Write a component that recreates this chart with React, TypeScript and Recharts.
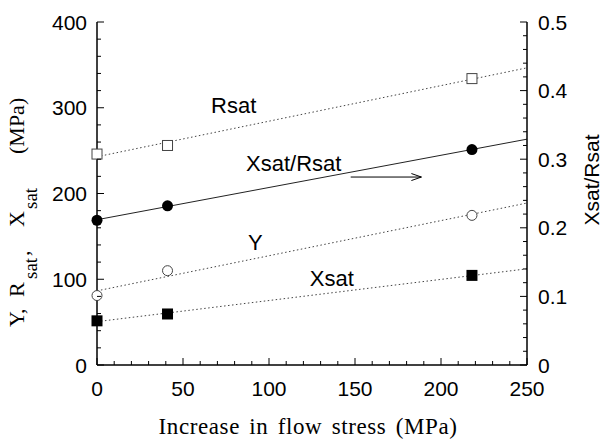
import {
  ComposedChart,
  Line,
  Scatter,
  XAxis,
  YAxis,
  ReferenceLine,
  ReferenceDot,
} from 'recharts'

// measured points (x = increase in flow stress, MPa)
const flowStress = [0, 41, 218]
const rsatValues = [246, 256, 334]
const yieldValues = [81, 110, 174.5]
const xsatValues = [51.5, 59.5, 104.5]
const ratioValues = [0.211, 0.232, 0.314]

const xTicks = [0, 10, 20, 30, 40, 50, 60, 70, 80, 90, 100, 110, 120, 130, 140, 150, 160, 170, 180, 190, 200, 210, 220, 230, 240, 250]
const leftTicks = [0, 20, 40, 60, 80, 100, 120, 140, 160, 180, 200, 220, 240, 260, 280, 300, 320, 340, 360, 380, 400]
const rightTicks = [0, 0.02, 0.04, 0.06, 0.08, 0.1, 0.12, 0.14, 0.16, 0.18, 0.2, 0.22, 0.24, 0.26, 0.28, 0.3, 0.32, 0.34, 0.36, 0.38, 0.4, 0.42, 0.44, 0.46, 0.48, 0.5]

// curve names placed in data units (left axis)
const curveLabels = [
  { text: 'Rsat', x: 79.5, y: 293.5 },
  { text: 'Xsat/Rsat', x: 114.4, y: 226.6 },
  { text: 'Y', x: 92, y: 134 },
  { text: 'Xsat', x: 136.5, y: 92.5 },
]
// arrow pointing the ratio curve to the right-hand axis
const arrowX = [147.5, 188.6]
const arrowRatio = 0.274

const X_MAX = 250
const SANS = 'Liberation Sans, Arial, sans-serif'
const SERIF = 'Liberation Serif, Times New Roman, serif'

const toPoints = (ys: number[]) => flowStress.map((x, i) => ({ x, y: ys[i] }))

// least-squares straight line through a series, drawn across the whole x range
function fitLine(ys: number[]) {
  const n = flowStress.length
  const mx = flowStress.reduce((s, v) => s + v, 0) / n
  const my = ys.reduce((s, v) => s + v, 0) / n
  let sxy = 0
  let sxx = 0
  flowStress.forEach((x, i) => {
    sxy += (x - mx) * (ys[i] - my)
    sxx += (x - mx) * (x - mx)
  })
  const b = sxy / sxx
  const a = my - b * mx
  return [0, X_MAX].map((x) => ({ x, y: a + b * x }))
}

const BottomTick = (props: any) => {
  const { x, y, payload } = props
  const v = payload.value
  const major = v % 50 === 0
  return (
    <g>
      <line x1={x} x2={x} y1={y} y2={y - (major ? 7 : 4)} stroke="#000" />
      {major && (
        <text x={x} y={y + 31} textAnchor="middle" fontSize={21} fontFamily={SANS} fill="#000">
          {v}
        </text>
      )}
    </g>
  )
}

const TopTick = (props: any) => {
  const { x, y, payload } = props
  const major = payload.value % 50 === 0
  return <line x1={x} x2={x} y1={y} y2={y + (major ? 7 : 4)} stroke="#000" />
}

const LeftTick = (props: any) => {
  const { x, y, payload } = props
  const v = payload.value
  const major = v % 100 === 0
  return (
    <g>
      <line x1={x} x2={x + (major ? 7 : 4)} y1={y} y2={y} stroke="#000" />
      {major && (
        <text x={x - 10} y={y + 7.5} textAnchor="end" fontSize={21} fontFamily={SANS} fill="#000">
          {v}
        </text>
      )}
    </g>
  )
}

const RightTick = (props: any) => {
  const { x, y, payload } = props
  const v = payload.value
  const major = Math.round(v * 50) % 5 === 0
  return (
    <g>
      <line x1={x} x2={x - (major ? 7 : 4)} y1={y} y2={y} stroke="#000" />
      {major && (
        <text x={x + 11} y={y + 7.5} textAnchor="start" fontSize={21} fontFamily={SANS} fill="#000">
          {String(Math.round(v * 10) / 10)}
        </text>
      )}
    </g>
  )
}

const OpenSquare = ({ cx, cy }: any) => (
  <rect x={cx - 5} y={cy - 5} width={10} height={10} fill="#fff" stroke="#444" strokeWidth={1} />
)
const FilledSquare = ({ cx, cy }: any) => (
  <rect x={cx - 5.5} y={cy - 5.5} width={11} height={11} fill="#000" />
)
const OpenCircle = ({ cx, cy }: any) => (
  <circle cx={cx} cy={cy} r={5} fill="#fff" stroke="#444" strokeWidth={1} />
)
const FilledCircle = ({ cx, cy }: any) => <circle cx={cx} cy={cy} r={5.5} fill="#000" />

const Arrow = ({ x1, y1, x2, y2 }: any) => (
  <g stroke="#000" strokeWidth={1} fill="none">
    <line x1={x1} y1={y1} x2={x2} y2={y2} />
    <polyline points={`${x2 - 10},${y2 - 3.5} ${x2},${y2} ${x2 - 10},${y2 + 3.5}`} />
  </g>
)

export default function App() {
  const axisLine = { stroke: '#000', strokeWidth: 1.5 }
  const dotted = { stroke: '#444', strokeWidth: 1, strokeDasharray: '1.5 2.5' }

  return (
    <div style={{ position: 'absolute', left: 0, top: 0, width: 604, height: 441, background: '#fff' }}>
      <ComposedChart width={604} height={441} margin={{ top: 22, right: 0, bottom: 0, left: 0 }}>
        <XAxis
          xAxisId="x"
          dataKey="x"
          type="number"
          domain={[0, X_MAX]}
          ticks={xTicks}
          interval={0}
          height={76}
          tickSize={0}
          tickMargin={0}
          tickLine={false}
          axisLine={axisLine}
          tick={BottomTick}
        />
        <XAxis
          xAxisId="top"
          orientation="top"
          dataKey="x"
          type="number"
          domain={[0, X_MAX]}
          ticks={xTicks}
          interval={0}
          height={0}
          tickSize={0}
          tickMargin={0}
          tickLine={false}
          axisLine={axisLine}
          tick={TopTick}
        />
        <YAxis
          yAxisId="left"
          dataKey="y"
          type="number"
          domain={[0, 400]}
          ticks={leftTicks}
          interval={0}
          width={97}
          tickSize={0}
          tickMargin={0}
          tickLine={false}
          axisLine={axisLine}
          tick={LeftTick}
        />
        <YAxis
          yAxisId="right"
          orientation="right"
          dataKey="y"
          type="number"
          domain={[0, 0.5]}
          ticks={rightTicks}
          interval={0}
          width={77}
          tickSize={0}
          tickMargin={0}
          tickLine={false}
          axisLine={axisLine}
          tick={RightTick}
        />

        <Line xAxisId="x" yAxisId="left" data={fitLine(rsatValues)} dataKey="y" type="linear" dot={false} activeDot={false} isAnimationActive={false} {...dotted} />
        <Line xAxisId="x" yAxisId="left" data={fitLine(yieldValues)} dataKey="y" type="linear" dot={false} activeDot={false} isAnimationActive={false} {...dotted} />
        <Line xAxisId="x" yAxisId="left" data={fitLine(xsatValues)} dataKey="y" type="linear" dot={false} activeDot={false} isAnimationActive={false} {...dotted} />
        <Line xAxisId="x" yAxisId="right" data={fitLine(ratioValues)} dataKey="y" type="linear" dot={false} activeDot={false} isAnimationActive={false} stroke="#222" strokeWidth={1} />

        <Scatter xAxisId="x" yAxisId="left" data={toPoints(rsatValues)} shape={OpenSquare} isAnimationActive={false} />
        <Scatter xAxisId="x" yAxisId="left" data={toPoints(yieldValues)} shape={OpenCircle} isAnimationActive={false} />
        <Scatter xAxisId="x" yAxisId="left" data={toPoints(xsatValues)} shape={FilledSquare} isAnimationActive={false} />
        <Scatter xAxisId="x" yAxisId="right" data={toPoints(ratioValues)} shape={FilledCircle} isAnimationActive={false} />

        <ReferenceLine
          xAxisId="x"
          yAxisId="right"
          segment={[
            { x: arrowX[0], y: arrowRatio },
            { x: arrowX[1], y: arrowRatio },
          ]}
          shape={Arrow}
        />
        {curveLabels.map((l) => (
          <ReferenceDot
            key={l.text}
            xAxisId="x"
            yAxisId="left"
            x={l.x}
            y={l.y}
            r={0}
            shape={({ cx, cy }: any) => (
              <text x={cx} y={cy} textAnchor="middle" fontSize={22} fontFamily={SANS} fill="#000">
                {l.text}
              </text>
            )}
          />
        ))}
      </ComposedChart>

      {/* axis titles */}
      <svg width={604} height={441} style={{ position: 'absolute', left: 0, top: 0, pointerEvents: 'none' }}>
        <text x={308} y={434} textAnchor="middle" fontSize={23} fontFamily={SERIF} letterSpacing={0.6} wordSpacing={3} fill="#000">
          Increase in flow stress (MPa)
        </text>
        <text transform="rotate(-90)" fontFamily={SERIF} fill="#000">
          <tspan x={-327} y={24} fontSize={22}>Y,</tspan>
          <tspan x={-297} y={24} fontSize={22}>R</tspan>
          <tspan x={-279} y={37} fontSize={19}>sat</tspan>
          <tspan x={-256} y={29} fontSize={22}>,</tspan>
          <tspan x={-227} y={24} fontSize={22}>X</tspan>
          <tspan x={-209} y={37} fontSize={19}>sat</tspan>
          <tspan x={-154} y={24} fontSize={22}>(MPa)</tspan>
        </text>
        <text transform="rotate(-90)" x={-180} y={599} textAnchor="middle" fontSize={21} fontFamily={SANS} fill="#000">
          Xsat/Rsat
        </text>
      </svg>
    </div>
  )
}
